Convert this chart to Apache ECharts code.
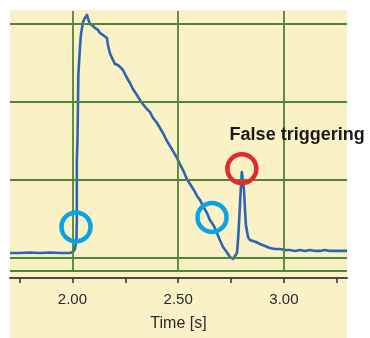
<!DOCTYPE html>
<html>
<head>
<meta charset="utf-8">
<script src="https://cdn.jsdelivr.net/npm/echarts@6/dist/echarts.min.js"></script>
<style>
  html, body { margin: 0; padding: 0; background: #fff; }
  #chart { width: 370px; height: 338px; }
</style>
</head>
<body>
<div id="chart"></div>
<script>
// time axis (s) and signal (arbitrary units, one unit = one grid row)
const timeS = [
  1.705, 1.752, 1.799, 1.846, 1.894, 1.941, 1.988, 2.002, 2.012, 2.019,
  2.021, 2.021, 2.021, 2.024, 2.026, 2.028, 2.035, 2.040, 2.050, 2.059,
  2.069, 2.073, 2.083, 2.097, 2.106, 2.121, 2.130, 2.144, 2.163, 2.168,
  2.177, 2.187, 2.201, 2.215, 2.225, 2.239, 2.253, 2.272, 2.286, 2.305,
  2.319, 2.333, 2.352, 2.366, 2.381, 2.400, 2.414, 2.433, 2.447, 2.461,
  2.475, 2.494, 2.508, 2.527, 2.541, 2.556, 2.574, 2.589, 2.603, 2.617,
  2.636, 2.650, 2.669, 2.683, 2.697, 2.712, 2.726, 2.745, 2.759, 2.768,
  2.778, 2.783, 2.787, 2.792, 2.797, 2.801, 2.806, 2.811, 2.816, 2.820,
  2.830, 2.839, 2.853, 2.868, 2.887, 2.910, 2.934, 2.957, 2.981, 3.005,
  3.028, 3.052, 3.076, 3.099, 3.123, 3.147, 3.170, 3.194, 3.218, 3.241,
  3.265, 3.298
];
const signal = [
  0.058, 0.058, 0.064, 0.058, 0.064, 0.058, 0.058, 0.071, 0.109, 0.225,
  0.482, 0.867, 1.253, 1.510, 1.895, 2.345, 2.667, 2.859, 3.026, 3.077,
  3.116, 3.077, 3.000, 2.975, 2.949, 2.924, 2.885, 2.859, 2.821, 2.731,
  2.628, 2.564, 2.487, 2.474, 2.448, 2.409, 2.332, 2.242, 2.165, 2.088,
  2.024, 1.972, 1.908, 1.870, 1.793, 1.728, 1.664, 1.574, 1.497, 1.433,
  1.369, 1.279, 1.201, 1.099, 1.009, 0.944, 0.867, 0.790, 0.739, 0.662,
  0.572, 0.482, 0.405, 0.315, 0.225, 0.135, 0.084, 0.006, -0.019, -0.006,
  0.058, 0.225, 0.418, 0.675, 0.932, 1.099, 1.112, 0.867, 0.610, 0.418,
  0.263, 0.225, 0.212, 0.199, 0.173, 0.148, 0.122, 0.109, 0.109, 0.096,
  0.096, 0.084, 0.096, 0.084, 0.096, 0.084, 0.084, 0.096, 0.084, 0.084,
  0.084, 0.084
];

const X_MIN = 1.705;
const X_MAX = 3.298;
const Y_MIN = -0.174;
const Y_MAX = 3.167;

const gridTimes = [2.0, 2.5, 3.0];
const gridLevels = [0, 1, 2, 3];
const tickTimes = [1.75, 2.0, 2.25, 2.5, 2.75, 3.0, 3.25];
const labelTimes = [2.0, 2.5, 3.0];

// annotation circles [time, signal]
const blueMarks = [[2.017, 0.392], [2.660, 0.515]];
const redMarks = [[2.801, 1.140]];
const redLabel = 'False triggering';

const chart = echarts.init(document.getElementById('chart'));

const gridLine = { color: '#4f8538', width: 1.8, type: 'solid' };
const borderLine = { color: '#2c652c', width: 2.4, type: 'solid' };

const option = {
  animation: false,
  backgroundColor: '#ffffff',
  graphic: [
    {
      type: 'rect',
      z: -10,
      shape: { x: 10, y: 10, width: 337, height: 328 },
      style: { fill: '#fbf1c6' }
    }
  ],
  grid: { left: 10, right: 23, top: 11, bottom: 67 },
  xAxis: {
    type: 'value',
    min: X_MIN,
    max: X_MAX,
    offset: 7,
    name: 'Time [s]',
    nameLocation: 'middle',
    nameGap: 38,
    nameTextStyle: { fontFamily: 'Liberation Sans', fontSize: 16, color: '#2a2a2a' },
    axisLine: { show: true, onZero: false, lineStyle: { color: '#4a4a42', width: 2 } },
    axisTick: {
      show: true,
      customValues: tickTimes,
      length: 5,
      lineStyle: { color: '#3a3a36', width: 1.6 }
    },
    axisLabel: {
      customValues: labelTimes,
      margin: 14,
      fontFamily: 'Liberation Sans',
      fontSize: 15,
      color: '#2a2a2a',
      formatter: v => v.toFixed(2)
    },
    splitLine: { show: false }
  },
  yAxis: {
    type: 'value',
    min: Y_MIN,
    max: Y_MAX,
    show: false,
    splitLine: { show: false }
  },
  series: [
    {
      type: 'line',
      silent: true,
      symbol: 'none',
      z: 1,
      data: [],
      markLine: {
        silent: true,
        symbol: 'none',
        label: { show: false },
        lineStyle: gridLine,
        data: [
          ...gridTimes.map(t => ({ xAxis: t })),
          ...gridLevels.map(v => ({ yAxis: v })),
          { yAxis: Y_MIN },
          { yAxis: Y_MAX, lineStyle: borderLine }
        ]
      }
    },
    {
      type: 'line',
      symbol: 'none',
      z: 3,
      lineStyle: { color: '#2c66b0', width: 2.6, join: 'round' },
      data: timeS.map((t, i) => [t, signal[i]])
    },
    {
      type: 'scatter',
      z: 5,
      symbol: 'circle',
      symbolSize: 29,
      itemStyle: { color: 'rgba(0,0,0,0)', borderColor: '#0ba3e2', borderWidth: 4.5, opacity: 1 },
      data: blueMarks
    },
    {
      type: 'scatter',
      z: 5,
      symbol: 'circle',
      symbolSize: 29,
      itemStyle: { color: 'rgba(0,0,0,0)', borderColor: '#e5262a', borderWidth: 4.5, opacity: 1 },
      label: {
        show: true,
        formatter: redLabel,
        position: [4.5, -17],
        align: 'left',
        verticalAlign: 'middle',
        fontFamily: 'Liberation Sans',
        fontWeight: 'bold',
        fontSize: 18,
        color: '#1a1a1a',
        opacity: 1
      },
      data: redMarks
    }
  ]
};

chart.setOption(option);
</script>
</body>
</html>
